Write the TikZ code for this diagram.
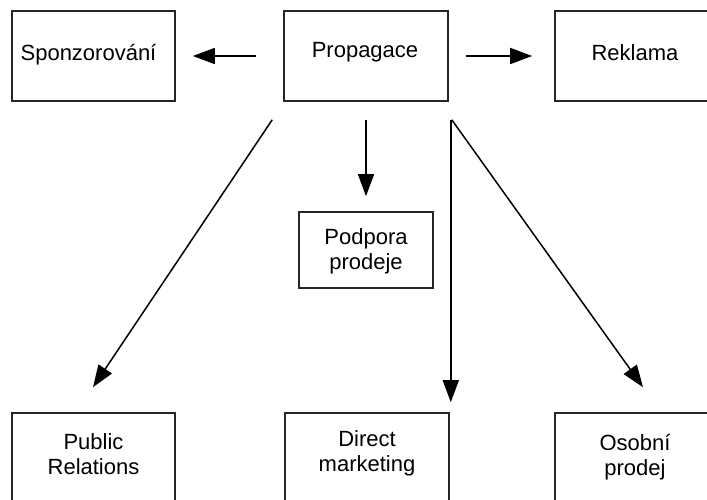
\documentclass[tikz,border=0pt]{standalone}
\usepackage{fontspec}
\setmainfont{Liberation Sans}
\usetikzlibrary{arrows.meta,calc}
\begin{document}
\begin{tikzpicture}[x=1pt,y=-1pt,
  box/.style={draw=black!85, line width=1.6pt, rectangle, inner sep=0pt},
  lbl/.style={font=\fontsize{22}{24.5}\selectfont, align=center, inner sep=0pt, anchor=base},
  arr/.style={draw=black, line width=1.5pt, -{Triangle[length=22pt,width=16pt]}}]
\useasboundingbox (0,0) rectangle (707,500);
\clip (0,0) rectangle (707,500);
% boxes
\node[box, minimum width=163pt, minimum height=90pt] (spon) at (93.5,56) {};
\node[box, minimum width=164pt, minimum height=90pt] (prop) at (366,56) {};
\node[box, minimum width=160pt, minimum height=90pt] (rek) at (635,56) {};
\node[box, minimum width=134pt, minimum height=76pt] (pod) at (366,250) {};
\node[box, minimum width=163pt, minimum height=90pt] (pr) at (93.5,458) {};
\node[box, minimum width=164pt, minimum height=90pt] (dm) at (367,458) {};
\node[box, minimum width=160pt, minimum height=90pt] (os) at (635,458) {};
% labels (base anchor = baseline of last line)
\node[lbl] (spont) at (88.5,61) {Sponzorování};
\node[lbl] (propt) at (365,58) {Propagace};
\node[lbl] (rekt) at (635,61) {Reklama};
\node[lbl] (podt) at (366,269) {Podpora\\prodeje};
\node[lbl] (prt) at (93.5,474) {Public\\Relations};
\node[lbl] (dmt) at (367,471) {Direct\\marketing};
\node[lbl] (ost) at (635,475) {Osobní\\prodej};
% arrows
\draw[arr, shorten <=27pt, shorten >=17pt] (prop.west) -- (spon.east);
\draw[arr, shorten <=17pt, shorten >=22pt] (prop.east) -- (rek.west);
\draw[arr, shorten <=18pt, shorten >=15pt] (prop.south) -- (pod.north);
\draw[arr] ($(prop.south west)+(-11,18)$) -- ($(pr.north)+(-0.5,-25)$);
\draw[arr] ($(prop.south east)+(2,18)$) -- ($(dm.north east)+(1,-10)$);
\draw[arr] ($(prop.south east)+(3,18)$) -- ($(os.north)+(8,-25)$);
\end{tikzpicture}
\end{document}
